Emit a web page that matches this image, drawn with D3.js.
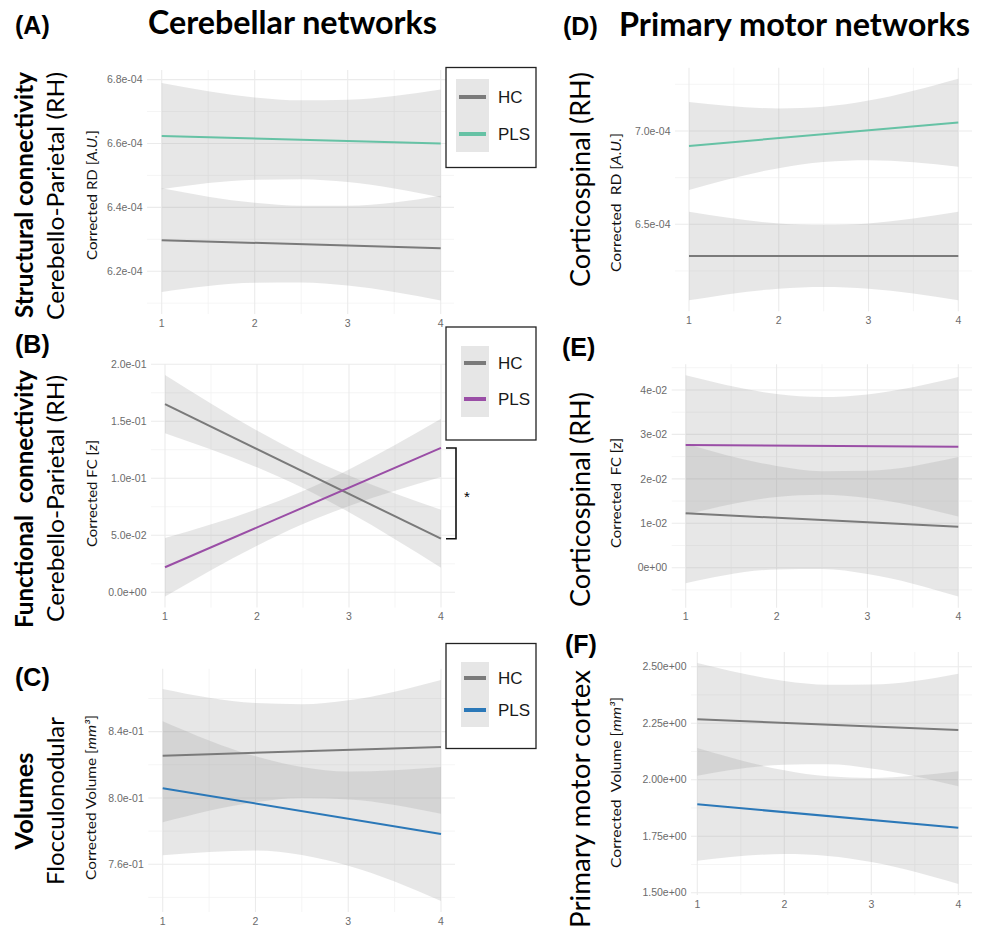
<!DOCTYPE html>
<html>
<head>
<meta charset="utf-8">
<script src="https://cdn.jsdelivr.net/npm/d3@7"></script>
<style>
body { margin: 0; background: #fff; }
text { font-family: "Liberation Sans", Arial, sans-serif; }
</style>
</head>
<body>
<div id="chart"></div>
<script>
// x values where the band edges were read, and where the fitted lines end
var bandX = [1, 2, 2.5, 3, 4];
var lineX = [1, 4];
var xTicks = [1, 2, 3, 4];
var groups = ["HC", "PLS"];

// (A) cerebello-parietal RD
var aHC = [6.297e-4, 6.272e-4];
var aHCLow = [6.135e-4, 6.164e-4, 6.165e-4, 6.155e-4, 6.108e-4];
var aHCHigh = [6.460e-4, 6.414e-4, 6.405e-4, 6.405e-4, 6.436e-4];
var aPLS = [6.623e-4, 6.600e-4];
var aPLSLow = [6.457e-4, 6.486e-4, 6.488e-4, 6.479e-4, 6.431e-4];
var aPLSHigh = [6.789e-4, 6.744e-4, 6.735e-4, 6.737e-4, 6.769e-4];
var aTicks = [6.2e-4, 6.4e-4, 6.6e-4, 6.8e-4];

// (B) cerebello-parietal FC
var bHC = [0.165, 0.047];
var bHCLow = [0.1395, 0.1096, 0.0915, 0.0702, 0.0215];
var bHCHigh = [0.1905, 0.1418, 0.1205, 0.1024, 0.0725];
var bPLS = [0.022, 0.1266];
var bPLSLow = [-0.0037, 0.0408, 0.0598, 0.0756, 0.1011];
var bPLSHigh = [0.0477, 0.0730, 0.0888, 0.1078, 0.1521];
var bTicks = [0, 0.05, 0.10, 0.15, 0.20];

// (C) flocculonodular volume
var cHC = [0.8255, 0.8308];
var cHCLow = [0.7853, 0.7974, 0.7999, 0.7991, 0.7904];
var cHCHigh = [0.8657, 0.8572, 0.8565, 0.8589, 0.8712];
var cPLS = [0.8059, 0.7783];
var cPLSLow = [0.7655, 0.7683, 0.7656, 0.7591, 0.7379];
var cPLSHigh = [0.8463, 0.8251, 0.8186, 0.8159, 0.8187];
var cTicks = [0.76, 0.80, 0.84];

// (D) corticospinal RD
var dHC = [6.330e-4, 6.330e-4];
var dHCLow = [6.093e-4, 6.155e-4, 6.164e-4, 6.155e-4, 6.093e-4];
var dHCHigh = [6.567e-4, 6.505e-4, 6.496e-4, 6.505e-4, 6.567e-4];
var dPLS = [6.920e-4, 7.045e-4];
var dPLSLow = [6.684e-4, 6.801e-4, 6.834e-4, 6.843e-4, 6.809e-4];
var dPLSHigh = [7.155e-4, 7.121e-4, 7.130e-4, 7.163e-4, 7.280e-4];
var dTicks = [6.5e-4, 7.0e-4];

// (E) corticospinal FC
var eHC = [0.01223, 0.00922];
var eHCLow = [-0.0035, -0.0004, -0.0003, -0.0014, -0.0065];
var eHCHigh = [0.0279, 0.0229, 0.0217, 0.0218, 0.0249];
var ePLS = [0.02761, 0.02723];
var ePLSLow = [0.0119, 0.0159, 0.0164, 0.0157, 0.0115];
var ePLSHigh = [0.0433, 0.0391, 0.0384, 0.0390, 0.0429];
var eTicks = [0, 0.01, 0.02, 0.03, 0.04];

// (F) primary motor cortex volume
var fHC = [2.267, 2.220];
var fHCLow = [2.018, 2.066, 2.068, 2.050, 1.971];
var fHCHigh = [2.516, 2.437, 2.420, 2.421, 2.469];
var fPLS = [1.891, 1.788];
var fPLSLow = [1.642, 1.671, 1.663, 1.636, 1.539];
var fPLSHigh = [2.140, 2.042, 2.015, 2.008, 2.037];
var fTicks = [1.50, 1.75, 2.00, 2.25, 2.50];

var hcColor = "#7a7a7a";
var green = "#66c2a5", purple = "#9a4ea6", blue = "#2b78b8";

function sci(p) {
    var f = d3.format("." + p + "e");
    return function(v) {
        return f(v).replace(/e([+-])(\d+)$/, function(m, s, d) {
            return "e" + s + (d.length < 2 ? "0" + d : d);
        });
    };
}

var panels = [
  {id: "A", x1: 161.7, x4: 440.7, left: 147, right: 454, top: 70, bottom: 314,
   yDomain: [6.066e-4, 6.830e-4], ticks: aTicks, fmt: sci(1), pls: green,
   hc: [aHC, aHCLow, aHCHigh], pl: [aPLS, aPLSLow, aPLSHigh],
   title: ["Corrected RD [", "A.U.", "]"], tx: 97, ty: 195, tlen: 130,
   legend: {x0: 446, y0: 67.5, x1: 536, y1: 167.5, kx0: 456, kx1: 489, ky0: 79, ky1: 152, rows: [97, 134]}},
  {id: "B", x1: 165, x4: 441, left: 151, right: 455, top: 364, bottom: 607.6,
   yDomain: [-0.0134, 0.2002], ticks: bTicks, fmt: sci(1), pls: purple,
   hc: [bHC, bHCLow, bHCHigh], pl: [bPLS, bPLSLow, bPLSHigh],
   title: ["Corrected FC [", "z", "]"], tx: 97, ty: 493.5, tlen: 107,
   legend: {x0: 446, y0: 327, x1: 536, y1: 440, kx0: 461, kx1: 489, ky0: 346, ky1: 417, rows: [363, 399]},
   bracket: true},
  {id: "C", x1: 162.7, x4: 441, left: 148.3, right: 455, top: 668.8, bottom: 912,
   yDomain: [0.7312, 0.8779], ticks: cTicks, fmt: sci(1), pls: blue,
   hc: [cHC, cHCLow, cHCHigh], pl: [cPLS, cPLSLow, cPLSHigh],
   title: ["Corrected Volume [", "mm\u00b3", "]"], tx: 96, ty: 797.5, tlen: 165,
   legend: {x0: 446, y0: 643.5, x1: 536, y1: 748.5, kx0: 461, kx1: 489, ky0: 662, ky1: 727, rows: [678, 710]}},
  {id: "D", x1: 689, x4: 958.3, left: 675, right: 972, top: 67.7, bottom: 311.3,
   yDomain: [6.034e-4, 7.339e-4], ticks: dTicks, fmt: sci(1), pls: green,
   hc: [dHC, dHCLow, dHCHigh], pl: [dPLS, dPLSLow, dPLSHigh],
   title: ["Corrected  RD [", "A.U.", "]"], tx: 621, ty: 202.5, tlen: 139},
  {id: "E", x1: 685.7, x4: 958.3, left: 671.7, right: 972, top: 364.2, bottom: 607.7,
   yDomain: [-0.009, 0.0458], ticks: eTicks, fmt: sci(0), pls: purple,
   hc: [eHC, eHCLow, eHCHigh], pl: [ePLS, ePLSLow, ePLSHigh],
   title: ["Corrected  FC [z]", "", ""], tx: 621, ty: 493, tlen: 110},
  {id: "F", x1: 697.3, x4: 958.3, left: 691, right: 972, top: 652, bottom: 895,
   yDomain: [1.490, 2.565], ticks: fTicks, fmt: sci(2), pls: blue,
   hc: [fHC, fHCLow, fHCHigh], pl: [fPLS, fPLSLow, fPLSHigh],
   title: ["Corrected  Volume [", "mm\u00b3", "]"], tx: 621, ty: 782.5, tlen: 171}
];

var svg = d3.select("#chart").append("svg")
    .attr("width", 984)
    .attr("height", 929);

panels.forEach(function(p) {
    var x = d3.scaleLinear().domain([1, 4]).range([p.x1, p.x4]);
    var y = d3.scaleLinear().domain(p.yDomain).range([p.bottom, p.top]);
    var g = svg.append("g").attr("class", "panel panel-" + p.id);

    // minor grid: midpoints between breaks, one step past each end
    var step = p.ticks[1] - p.ticks[0];
    var yMinor = [];
    for (var i = -1; i < p.ticks.length; i++) {
        var v = p.ticks[0] + (i + 0.5) * step;
        if (v > p.yDomain[0] && v < p.yDomain[1]) yMinor.push(v);
    }
    var xMinor = [1.5, 2.5, 3.5];

    g.selectAll(".yminor").data(yMinor).enter().append("line")
        .attr("x1", p.left).attr("x2", p.right)
        .attr("y1", function(d) { return y(d); }).attr("y2", function(d) { return y(d); })
        .style("stroke", "#f2f2f2").style("stroke-width", 0.8);
    g.selectAll(".xminor").data(xMinor).enter().append("line")
        .attr("y1", p.top).attr("y2", p.bottom)
        .attr("x1", function(d) { return x(d); }).attr("x2", function(d) { return x(d); })
        .style("stroke", "#f2f2f2").style("stroke-width", 0.8);
    g.selectAll(".ymajor").data(p.ticks).enter().append("line")
        .attr("x1", p.left).attr("x2", p.right)
        .attr("y1", function(d) { return y(d); }).attr("y2", function(d) { return y(d); })
        .style("stroke", "#ebebeb").style("stroke-width", 1.1);
    g.selectAll(".xmajor").data(xTicks).enter().append("line")
        .attr("y1", p.top).attr("y2", p.bottom)
        .attr("x1", function(d) { return x(d); }).attr("x2", function(d) { return x(d); })
        .style("stroke", "#ebebeb").style("stroke-width", 1.1);

    // tick labels
    g.selectAll(".ylab").data(p.ticks).enter().append("text")
        .attr("x", p.left - 4.5)
        .attr("y", function(d) { return y(d); })
        .attr("dy", "0.35em")
        .style("text-anchor", "end")
        .style("font-size", "10.5px")
        .style("fill", "#6b6b6b")
        .text(p.fmt);
    g.selectAll(".xlab").data(xTicks).enter().append("text")
        .attr("x", function(d) { return x(d); })
        .attr("y", p.bottom + 9)
        .attr("dy", "0.35em")
        .style("text-anchor", "middle")
        .style("font-size", "10.5px")
        .style("fill", "#6b6b6b")
        .text(function(d) { return d; });

    // confidence bands
    var area = d3.area()
        .x(function(d) { return x(d[0]); })
        .y0(function(d) { return y(d[1]); })
        .y1(function(d) { return y(d[2]); })
        .curve(d3.curveMonotoneX);
    [p.hc, p.pl].forEach(function(s) {
        var pts = bandX.map(function(bx, k) { return [bx, s[1][k], s[2][k]]; });
        g.append("path")
            .attr("d", area(pts))
            .style("fill", "#999999")
            .style("fill-opacity", 0.24);
    });

    // fitted lines
    var line = d3.line()
        .x(function(d) { return x(d[0]); })
        .y(function(d) { return y(d[1]); });
    [[p.hc, hcColor], [p.pl, p.pls]].forEach(function(s) {
        var pts = lineX.map(function(lx, k) { return [lx, s[0][0][k]]; });
        g.append("path")
            .attr("d", line(pts))
            .style("fill", "none")
            .style("stroke", s[1])
            .style("stroke-width", 2);
    });

    // y axis title
    var t = g.append("text")
        .attr("transform", "translate(" + p.tx + "," + p.ty + ") rotate(-90)")
        .attr("textLength", p.tlen)
        .attr("lengthAdjust", "spacingAndGlyphs")
        .style("text-anchor", "middle")
        .style("font-family", "Lato, sans-serif")
        .style("font-size", "13.5px")
        .style("white-space", "pre")
        .style("fill", "#111");
    t.append("tspan").text(p.title[0]);
    if (p.title[1]) t.append("tspan").style("font-style", "italic").text(p.title[1]);
    if (p.title[2]) t.append("tspan").text(p.title[2]);

    // legend
    if (p.legend) {
        var L = p.legend;
        g.append("rect")
            .attr("x", L.x0).attr("y", L.y0)
            .attr("width", L.x1 - L.x0).attr("height", L.y1 - L.y0)
            .style("fill", "#fff").style("stroke", "#222").style("stroke-width", 1.3);
        g.append("rect")
            .attr("x", L.kx0).attr("y", L.ky0)
            .attr("width", L.kx1 - L.kx0).attr("height", L.ky1 - L.ky0)
            .style("fill", "#e6e6e6");
        groups.forEach(function(name, k) {
            g.append("line")
                .attr("x1", L.kx0 + 3).attr("x2", L.kx1 - 3)
                .attr("y1", L.rows[k]).attr("y2", L.rows[k])
                .style("stroke", k === 0 ? hcColor : p.pls)
                .style("stroke-width", 4);
            g.append("text")
                .attr("x", 498).attr("y", L.rows[k])
                .attr("dy", "0.35em")
                .style("font-size", "17px")
                .style("fill", "#1a1a1a")
                .text(name);
        });
    }

    // significance bracket between the two line ends
    if (p.bracket) {
        var yTop = y(p.pl[0][1]), yBot = y(p.hc[0][1]);
        g.append("path")
            .attr("d", "M446," + yTop + "H456V" + yBot + "H446")
            .style("fill", "none").style("stroke", "#111").style("stroke-width", 1.6);
        g.append("text")
            .attr("x", 464).attr("y", (yTop + yBot) / 2 + 9)
            .style("font-size", "15px")
            .text("*");
    }
});

// headings and row labels; len = measured span of the text in the figure
function addText(txt, x, y, size, weight, family, rot, len) {
    var t = svg.append("text")
        .attr("transform", "translate(" + x + "," + y + ")" + (rot ? " rotate(-90)" : ""))
        .style("text-anchor", rot ? "middle" : "start")
        .style("font-size", size + "px")
        .style("font-weight", weight)
        .style("font-family", family)
        .style("white-space", "pre")
        .style("fill", "#000")
        .text(txt);
    if (len) t.attr("textLength", len).attr("lengthAdjust", "spacingAndGlyphs");
}
var sans = "'Liberation Sans', Arial, sans-serif";
var lato = "Lato, sans-serif";

addText("(A)", 15, 34, 25, "bold", sans);
addText("(B)", 15, 353, 25, "bold", sans);
addText("(C)", 15, 686, 25, "bold", sans);
addText("(D)", 563, 35, 25, "bold", sans);
addText("(E)", 562, 356, 25, "bold", sans);
addText("(F)", 565, 653, 25, "bold", sans);
addText("Cerebellar networks", 148, 34, 31.5, "bold", lato, false, 289);
addText("Primary motor networks", 619, 36, 31.5, "bold", lato, false, 351);

addText("Structural connectivity", 33, 195, 25, "bold", lato, true, 246);
addText("Cerebello-Parietal (RH)", 64, 196, 24, "normal", lato, true, 248);
addText("Functional  connectivity", 33, 499, 25, "bold", lato, true, 258);
addText("Cerebello-Parietal (RH)", 64, 498.5, 24, "normal", lato, true, 247);
addText("Volumes", 33, 801, 25, "bold", lato, true, 97);
addText("Flocculonodular", 64, 801, 24, "normal", lato, true, 168);
addText("Corticospinal (RH)", 590, 179.5, 26, "normal", lato, true, 215);
addText("Corticospinal (RH)", 590, 499.5, 26, "normal", lato, true, 215);
addText("Primary motor cortex", 590, 799, 26, "normal", lato, true, 258);
</script>
</body>
</html>
